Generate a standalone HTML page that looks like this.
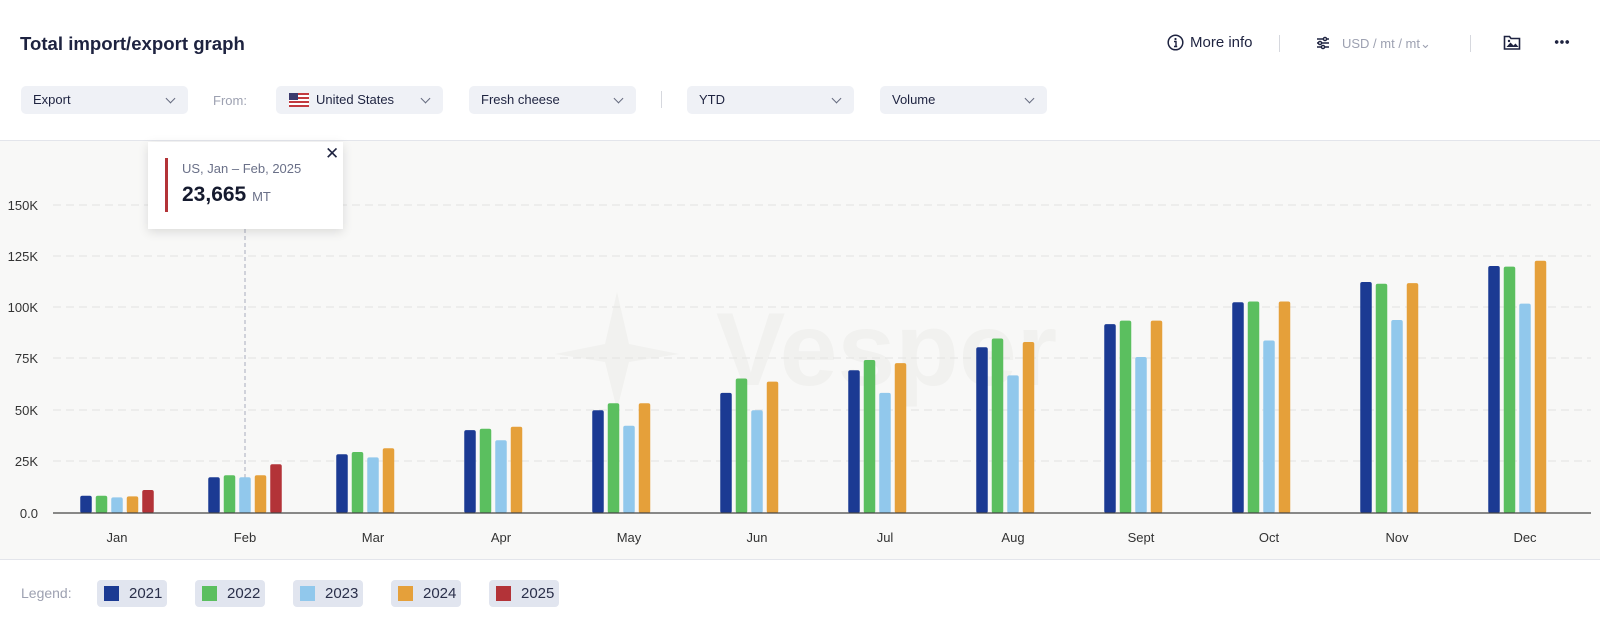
<!DOCTYPE html>
<html><head><meta charset="utf-8"><style>
*{margin:0;padding:0;box-sizing:border-box}
body{width:1600px;height:623px;background:#fff;font-family:"Liberation Sans",sans-serif;position:relative;overflow:hidden;color:#1e2340}
.a{position:absolute}
.dd{position:absolute;top:86px;height:28px;background:#eff1f6;border-radius:5px;font-size:13px;line-height:28px;padding-left:12px;color:#1e2340}
.dd:after{content:"";position:absolute;right:14px;top:9px;width:6px;height:6px;border-right:1.3px solid #666c80;border-bottom:1.3px solid #666c80;transform:rotate(45deg)}
.sep{position:absolute;width:1px;background:#d6d8de}
.lg{position:absolute;top:580px;height:27px;width:70px;background:#e1e5ef;border-radius:4px;font-size:15px;line-height:27px;color:#2a2f4a;padding-left:32px}
.lg i{position:absolute;left:7px;top:6px;width:15px;height:15px}
</style></head><body>
<div class="a" style="left:20px;top:33px;font-size:18.6px;font-weight:bold;color:#1e2340">Total import/export graph</div>
<svg class="a" style="left:1167px;top:34px" width="17" height="17" viewBox="0 0 17 17"><circle cx="8.5" cy="8.5" r="7.3" fill="none" stroke="#1e2340" stroke-width="1.5"/><circle cx="8.5" cy="5" r="1.1" fill="#1e2340"/><path d="M7 7.5h2v5h1.2M7 12.5h3.2" stroke="#1e2340" stroke-width="1.4" fill="none"/></svg>
<div class="a" style="left:1190px;top:34px;font-size:15px;color:#1e2340">More info</div>
<div class="sep" style="left:1279px;top:35px;height:17px"></div>
<svg class="a" style="left:1316px;top:36px" width="14" height="14" viewBox="0 0 14 14" fill="none" stroke="#1e2340" stroke-width="1.4"><path d="M1 3h12M1 7h12M1 11h12"/><circle cx="9" cy="3" r="1.6" fill="#fff"/><circle cx="4" cy="7" r="1.6" fill="#fff"/><circle cx="7" cy="11" r="1.6" fill="#fff"/></svg>
<div class="a" style="left:1342px;top:36px;font-size:13px;color:#9da1b1">USD / mt / mt&#8964;</div>
<div class="sep" style="left:1470px;top:35px;height:17px"></div>
<svg class="a" style="left:1503px;top:34px" width="18" height="17" viewBox="0 0 18 17"><path d="M1.5 2.5h5l1.5 2h8.5v10.5h-15z" fill="none" stroke="#1e2340" stroke-width="1.6"/><path d="M3.5 13l4-4.5 3 3 2-2 3 3.5z" fill="#1e2340"/><circle cx="6" cy="7" r="1.2" fill="#1e2340"/></svg>
<div class="a" style="left:1554px;top:40px;width:16px;height:4px;background:radial-gradient(circle,#1e2340 1.7px,transparent 2px) 0 0/5.3px 4px repeat-x"></div>

<div class="dd" style="left:21px;width:167px">Export</div>
<div class="a" style="left:213px;top:93px;font-size:13px;color:#9da1b1">From:</div>
<div class="dd" style="left:276px;width:167px;padding-left:40px"><svg style="position:absolute;left:13px;top:7px" width="20" height="14"><rect width="20" height="14" fill="#fff"/><g fill="#c23a3f"><rect y="0" width="20" height="2"/><rect y="4" width="20" height="2"/><rect y="8" width="20" height="2"/><rect y="12" width="20" height="2"/></g><rect width="9" height="7" fill="#3c3b6e"/></svg>United States</div>
<div class="dd" style="left:469px;width:167px">Fresh cheese</div>
<div class="sep" style="left:661px;top:91px;height:17px"></div>
<div class="dd" style="left:687px;width:167px">YTD</div>
<div class="dd" style="left:880px;width:167px">Volume</div>

<div class="a" style="left:0;top:140px;width:1600px;height:420px;background:#f8f8f7;border-top:1px solid #e3e5eb;border-bottom:1px solid #e3e5eb"></div>
<svg class="a" style="left:0;top:0" width="1600" height="623">
<text x="716" y="385" font-size="104" font-weight="bold" fill="#f1f1ef" font-family="Liberation Sans,sans-serif">Vesper</text>
<path d="M617 292l-12 52-50 10 50 8 12 48 12-48 50-8-50-10z" fill="#f1f1ef"/>
<g stroke="#e2e2e2" stroke-dasharray="8,5" stroke-width="1">
<line x1="53" x2="1591" y1="205" y2="205"/><line x1="53" x2="1591" y1="256" y2="256"/><line x1="53" x2="1591" y1="307" y2="307"/><line x1="53" x2="1591" y1="358" y2="358"/><line x1="53" x2="1591" y1="410" y2="410"/><line x1="53" x2="1591" y1="461" y2="461"/></g>
<g font-size="13" fill="#333" text-anchor="end" font-family="Liberation Sans,sans-serif">
<text x="38" y="210">150K</text><text x="38" y="261">125K</text><text x="38" y="312">100K</text><text x="38" y="363">75K</text><text x="38" y="415">50K</text><text x="38" y="466">25K</text><text x="38" y="518">0.0</text></g>
<line x1="245" x2="245" y1="229" y2="513" stroke="#a9adbd" stroke-dasharray="4,3"/>
<g transform="translate(117,513)"><rect x="-36.75" y="-17.2" width="11.5" height="17.2" rx="2" fill="#1b3a93"/><rect x="-21.25" y="-17.2" width="11.5" height="17.2" rx="2" fill="#5bbf5f"/><rect x="-5.75" y="-15.6" width="11.5" height="15.6" rx="2" fill="#91c8ec"/><rect x="9.75" y="-16.6" width="11.5" height="16.6" rx="2" fill="#e5a03a"/><rect x="25.25" y="-23" width="11.5" height="23" rx="2" fill="#b33338"/></g>
<g transform="translate(245,513)"><rect x="-36.75" y="-35.7" width="11.5" height="35.7" rx="2" fill="#1b3a93"/><rect x="-21.25" y="-37.8" width="11.5" height="37.8" rx="2" fill="#5bbf5f"/><rect x="-5.75" y="-35.7" width="11.5" height="35.7" rx="2" fill="#91c8ec"/><rect x="9.75" y="-37.8" width="11.5" height="37.8" rx="2" fill="#e5a03a"/><rect x="25.25" y="-48.7" width="11.5" height="48.7" rx="2" fill="#b33338"/></g>
<g transform="translate(373,513)"><rect x="-36.75" y="-58.7" width="11.5" height="58.7" rx="2" fill="#1b3a93"/><rect x="-21.25" y="-61" width="11.5" height="61" rx="2" fill="#5bbf5f"/><rect x="-5.75" y="-55.6" width="11.5" height="55.6" rx="2" fill="#91c8ec"/><rect x="9.75" y="-64.7" width="11.5" height="64.7" rx="2" fill="#e5a03a"/></g>
<g transform="translate(501,513)"><rect x="-36.75" y="-82.9" width="11.5" height="82.9" rx="2" fill="#1b3a93"/><rect x="-21.25" y="-84.2" width="11.5" height="84.2" rx="2" fill="#5bbf5f"/><rect x="-5.75" y="-72.7" width="11.5" height="72.7" rx="2" fill="#91c8ec"/><rect x="9.75" y="-86.2" width="11.5" height="86.2" rx="2" fill="#e5a03a"/></g>
<g transform="translate(629,513)"><rect x="-36.75" y="-102.7" width="11.5" height="102.7" rx="2" fill="#1b3a93"/><rect x="-21.25" y="-109.8" width="11.5" height="109.8" rx="2" fill="#5bbf5f"/><rect x="-5.75" y="-87.3" width="11.5" height="87.3" rx="2" fill="#91c8ec"/><rect x="9.75" y="-109.8" width="11.5" height="109.8" rx="2" fill="#e5a03a"/></g>
<g transform="translate(757,513)"><rect x="-36.75" y="-120.1" width="11.5" height="120.1" rx="2" fill="#1b3a93"/><rect x="-21.25" y="-134.5" width="11.5" height="134.5" rx="2" fill="#5bbf5f"/><rect x="-5.75" y="-102.7" width="11.5" height="102.7" rx="2" fill="#91c8ec"/><rect x="9.75" y="-131.4" width="11.5" height="131.4" rx="2" fill="#e5a03a"/></g>
<g transform="translate(885,513)"><rect x="-36.75" y="-142.7" width="11.5" height="142.7" rx="2" fill="#1b3a93"/><rect x="-21.25" y="-153" width="11.5" height="153" rx="2" fill="#5bbf5f"/><rect x="-5.75" y="-120.1" width="11.5" height="120.1" rx="2" fill="#91c8ec"/><rect x="9.75" y="-149.9" width="11.5" height="149.9" rx="2" fill="#e5a03a"/></g>
<g transform="translate(1013,513)"><rect x="-36.75" y="-165.7" width="11.5" height="165.7" rx="2" fill="#1b3a93"/><rect x="-21.25" y="-174.5" width="11.5" height="174.5" rx="2" fill="#5bbf5f"/><rect x="-5.75" y="-137.6" width="11.5" height="137.6" rx="2" fill="#91c8ec"/><rect x="9.75" y="-171" width="11.5" height="171" rx="2" fill="#e5a03a"/></g>
<g transform="translate(1141,513)"><rect x="-36.75" y="-188.9" width="11.5" height="188.9" rx="2" fill="#1b3a93"/><rect x="-21.25" y="-192.4" width="11.5" height="192.4" rx="2" fill="#5bbf5f"/><rect x="-5.75" y="-156" width="11.5" height="156" rx="2" fill="#91c8ec"/><rect x="9.75" y="-192.4" width="11.5" height="192.4" rx="2" fill="#e5a03a"/></g>
<g transform="translate(1269,513)"><rect x="-36.75" y="-210.8" width="11.5" height="210.8" rx="2" fill="#1b3a93"/><rect x="-21.25" y="-211.5" width="11.5" height="211.5" rx="2" fill="#5bbf5f"/><rect x="-5.75" y="-172.5" width="11.5" height="172.5" rx="2" fill="#91c8ec"/><rect x="9.75" y="-211.5" width="11.5" height="211.5" rx="2" fill="#e5a03a"/></g>
<g transform="translate(1397,513)"><rect x="-36.75" y="-231" width="11.5" height="231" rx="2" fill="#1b3a93"/><rect x="-21.25" y="-229.3" width="11.5" height="229.3" rx="2" fill="#5bbf5f"/><rect x="-5.75" y="-193" width="11.5" height="193" rx="2" fill="#91c8ec"/><rect x="9.75" y="-229.9" width="11.5" height="229.9" rx="2" fill="#e5a03a"/></g>
<g transform="translate(1525,513)"><rect x="-36.75" y="-247" width="11.5" height="247" rx="2" fill="#1b3a93"/><rect x="-21.25" y="-246.4" width="11.5" height="246.4" rx="2" fill="#5bbf5f"/><rect x="-5.75" y="-209.4" width="11.5" height="209.4" rx="2" fill="#91c8ec"/><rect x="9.75" y="-252.3" width="11.5" height="252.3" rx="2" fill="#e5a03a"/></g>
<line x1="53" x2="1591" y1="513" y2="513" stroke="#444" stroke-width="1.3"/>
<g font-size="13" fill="#333" text-anchor="middle" font-family="Liberation Sans,sans-serif">
<text x="117" y="542">Jan</text><text x="245" y="542">Feb</text><text x="373" y="542">Mar</text><text x="501" y="542">Apr</text><text x="629" y="542">May</text><text x="757" y="542">Jun</text><text x="885" y="542">Jul</text><text x="1013" y="542">Aug</text><text x="1141" y="542">Sept</text><text x="1269" y="542">Oct</text><text x="1397" y="542">Nov</text><text x="1525" y="542">Dec</text></g>
</svg>

<div class="a" style="left:148px;top:142px;width:195px;height:87px;background:#fff;box-shadow:0 3px 10px rgba(0,0,0,0.12)">
<div class="a" style="left:17px;top:16px;width:3px;height:54px;background:#b33338"></div>
<div class="a" style="left:34px;top:19px;font-size:13px;color:#6a7088">US, Jan – Feb, 2025</div>
<div class="a" style="left:34px;top:41px;font-size:21px;font-weight:bold;color:#151a2e">23,665 <span style="font-size:13px;font-weight:normal;color:#6a7088">MT</span></div>
<div class="a" style="left:177px;top:2px;font-size:17px;color:#1e2340">✕</div>
</div>

<div class="a" style="left:21px;top:585px;font-size:14px;color:#9da1b1">Legend:</div>
<div class="lg" style="left:97px"><i style="background:#1b3a93"></i>2021</div>
<div class="lg" style="left:195px"><i style="background:#5bbf5f"></i>2022</div>
<div class="lg" style="left:293px"><i style="background:#91c8ec"></i>2023</div>
<div class="lg" style="left:391px"><i style="background:#e5a03a"></i>2024</div>
<div class="lg" style="left:489px"><i style="background:#b33338"></i>2025</div>
</body></html>
